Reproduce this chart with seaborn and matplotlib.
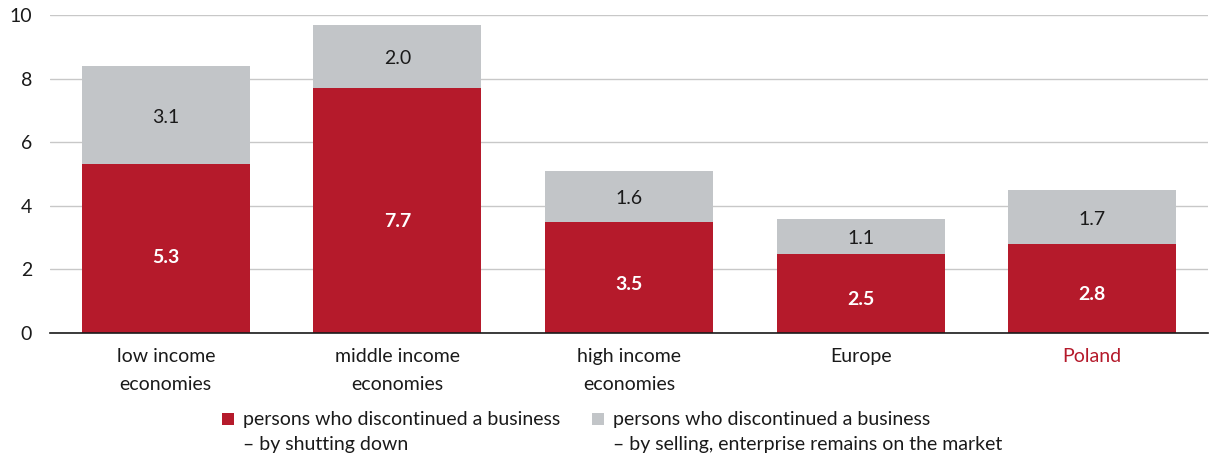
import matplotlib
matplotlib.use("Agg")
import matplotlib.pyplot as plt
from matplotlib.patches import Rectangle
import seaborn as sns
import pandas as pd

categories = ["low income\neconomies", "middle income\neconomies", "high income\neconomies", "Europe", "Poland"]
shutting_down = [5.3, 7.7, 3.5, 2.5, 2.8]
selling = [3.1, 2.0, 1.6, 1.1, 1.7]
y_ticks = [0, 2, 4, 6, 8, 10]
legend_labels = ["persons who discontinued a business\n– by shutting down",
                 "persons who discontinued a business\n– by selling, enterprise remains on the market"]

RED = "#b51a2b"
GRAY = "#c2c5c8"
TEXT = "#1a1a1a"
FS = 14

sns.set_theme(style="white")
plt.rcParams["font.family"] = ["Lato", "DejaVu Sans"]

df = pd.DataFrame({
    "category": categories,
    "shut": shutting_down,
    "sell": selling,
})
df["total"] = df["shut"] + df["sell"]

W, H = 1213, 454
fig = plt.figure(figsize=(W / 100, H / 100), dpi=100)
ax = fig.add_axes([50 / W, 1 - 333 / H, 1158 / W, 318 / H])

sns.barplot(data=df, x="category", y="total", color=GRAY, width=0.725,
            saturation=1, linewidth=0, ax=ax, zorder=2)
sns.barplot(data=df, x="category", y="shut", color=RED, width=0.725,
            saturation=1, linewidth=0, ax=ax, zorder=3)

# value labels inside segments
for i, (s, g) in enumerate(zip(shutting_down, selling)):
    ax.text(i, s / 2 - 0.12 - 0.03 * s, f"{s:.1f}", ha="center", va="center",
            color="white", fontsize=FS, fontweight="bold", zorder=4)
    ax.text(i, s + g / 2 - 0.08, f"{g:.1f}", ha="center", va="center",
            color=TEXT, fontsize=FS, zorder=4)

ax.set_ylim(0, 10)
ax.set_xlim(-0.5, len(categories) - 0.5)
ax.set_yticks(y_ticks)
ax.set_yticklabels([str(t) for t in y_ticks], fontsize=FS, color=TEXT)
ax.yaxis.grid(True, color="#c8c8c8", linewidth=1)
ax.set_axisbelow(True)
ax.set_xlabel("")
ax.set_ylabel("")
ax.tick_params(axis="y", length=0, pad=13)
ax.tick_params(axis="x", length=0, pad=11)
ax.set_xticks(range(len(categories)))
ax.set_xticklabels(categories, fontsize=FS, color=TEXT, linespacing=1.75)
ax.get_xticklabels()[-1].set_color(RED)

for side in ["top", "right", "left"]:
    ax.spines[side].set_visible(False)
ax.spines["bottom"].set_color(TEXT)
ax.spines["bottom"].set_linewidth(1.2)
ax.spines["bottom"].set_zorder(5)

# legend: square swatch beside the first line of each two-line label
for (sx, tx), col, lab in zip([(222, 243), (592, 613)], [RED, GRAY], legend_labels):
    fig.add_artist(Rectangle((sx / W, 1 - 425 / H), 12 / W, 12 / H,
                             transform=fig.transFigure, facecolor=col, edgecolor="none"))
    fig.text(tx / W, 1 - 411 / H, lab, ha="left", va="top", fontsize=FS,
             color=TEXT, linespacing=1.58)

fig.savefig("out.png", dpi=100)
